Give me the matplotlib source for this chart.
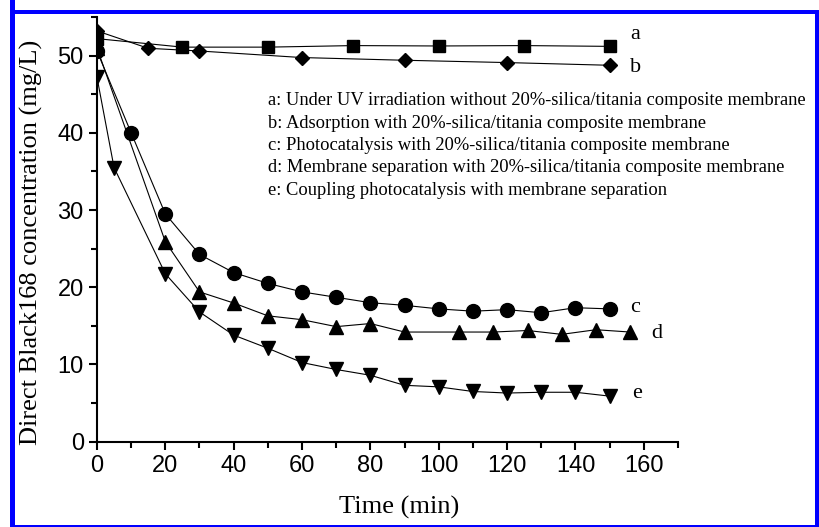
import matplotlib
matplotlib.use("Agg")
import matplotlib.pyplot as plt
from matplotlib.patches import Rectangle
from matplotlib.ticker import MultipleLocator

# curve a: UV only
t_a = [0, 25, 50, 75, 100, 125, 150]
c_a = [52.2, 51.1, 51.1, 51.3, 51.25, 51.3, 51.2]

# curve b: adsorption
t_b = [0, 15, 30, 60, 90, 120, 150]
c_b = [53.2, 50.95, 50.6, 49.75, 49.4, 49.1, 48.75]

# curve c: photocatalysis
t_c = [0, 10, 20, 30, 40, 50, 60, 70, 80, 90, 100, 110, 120, 130, 140, 150]
c_c = [50.6, 40.0, 29.5, 24.25, 21.9, 20.5, 19.4, 18.7, 18.0, 17.66, 17.2, 16.9, 17.1, 16.7, 17.35, 17.2]

# curve d: membrane separation
t_d = [0, 20, 30, 40, 50, 60, 70, 80, 90, 106, 116, 126, 136, 146, 156]
c_d = [51.0, 25.9, 19.4, 17.96, 16.3, 15.8, 14.9, 15.3, 14.2, 14.2, 14.2, 14.4, 13.9, 14.5, 14.2]

# curve e: coupling
t_e = [0, 5, 20, 30, 40, 50, 60, 70, 80, 90, 100, 110, 120, 130, 140, 150]
c_e = [47.2, 35.5, 21.75, 16.8, 13.8, 12.1, 10.25, 9.35, 8.6, 7.3, 7.1, 6.5, 6.3, 6.4, 6.4, 5.9]

curve_labels = ["a", "b", "c", "d", "e"]
descriptions = [
    "a: Under UV irradiation without 20%-silica/titania composite membrane",
    "b: Adsorption with 20%-silica/titania composite membrane",
    "c: Photocatalysis with 20%-silica/titania composite membrane",
    "d: Membrane separation with 20%-silica/titania composite membrane",
    "e: Coupling photocatalysis with membrane separation",
]

serif = "Liberation Serif"
sans = "Liberation Sans"

fig = plt.figure(figsize=(8.19, 5.27), dpi=100)
ax = fig.add_axes([0.1184, 0.1619, 0.7094, 0.8058])

ax.plot(t_a, c_a, color="black", lw=0.8, marker="s", ms=8)
ax.plot(t_b, c_b, color="black", lw=0.8, marker="D", ms=7)
ax.plot(t_c, c_c, color="black", lw=0.8, marker="o", ms=10)
ax.plot(t_d, c_d, color="black", lw=0.8, marker="^", ms=10)
ax.plot(t_e, c_e, color="black", lw=0.8, marker="v", ms=10)

# curve letters at the right end of each series
label_pos = [(156, 52.7), (156, 48.5), (156, 17.4), (162.3, 14.0), (156.5, 6.25)]
for lab, (x, y) in zip(curve_labels, label_pos):
    ax.text(x, y, lab, fontsize=16, family=serif, ha="left", va="center")

for i, d in enumerate(descriptions):
    ax.text(50.1, 44.15 - i * 2.9, d, fontsize=13.3, family=serif, ha="left", va="center")

ax.set_xlim(0, 170)
ax.set_ylim(0, 55)
ax.xaxis.set_major_locator(MultipleLocator(20))
ax.xaxis.set_minor_locator(MultipleLocator(10))
ax.yaxis.set_major_locator(MultipleLocator(10))
ax.yaxis.set_minor_locator(MultipleLocator(5))
ax.set_xticks(range(0, 161, 20))
ax.tick_params(which="major", direction="out", length=6, width=1.5, labelsize=17)
ax.tick_params(which="minor", direction="out", length=4, width=1.5)
for lbl in ax.get_xticklabels() + ax.get_yticklabels():
    lbl.set_family(sans)

ax.spines["top"].set_visible(False)
ax.spines["right"].set_visible(False)
ax.spines["left"].set_linewidth(1.5)
ax.spines["bottom"].set_linewidth(1.5)

ax.set_xlabel("Time (min)", fontsize=19, family=serif)
ax.set_ylabel("Direct Black168 concentration (mg/L)", fontsize=19, family=serif)
ax.xaxis.set_label_coords(0.52, -0.128)
ax.yaxis.set_label_coords(-0.093, 0.47)

# blue frame around the figure
W, H = 819.0, 527.0
frame = [(10, 0, 5, 527), (10, 10, 809, 4), (815, 10, 4, 517), (10, 525, 809, 2)]
for x0, y0, w, h in frame:
    fig.patches.append(Rectangle((x0 / W, 1 - (y0 + h) / H), w / W, h / H,
                                 transform=fig.transFigure, color="#0000ff", lw=0))

fig.savefig("out.png", dpi=100)
